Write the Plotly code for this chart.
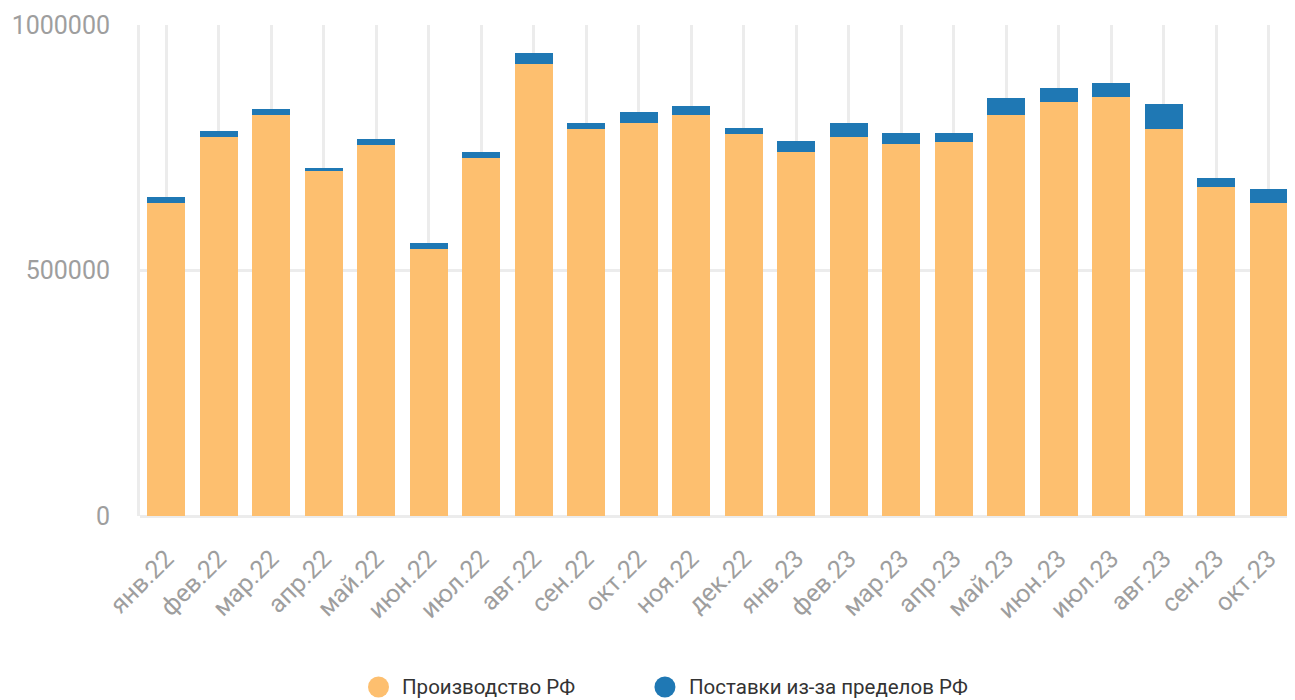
import plotly.graph_objects as go

months = ["янв.22", "фев.22", "мар.22", "апр.22", "май.22", "июн.22", "июл.22", "авг.22",
          "сен.22", "окт.22", "ноя.22", "дек.22", "янв.23", "фев.23", "мар.23", "апр.23",
          "май.23", "июн.23", "июл.23", "авг.23", "сен.23", "окт.23"]

production_rf = [637500, 771900, 816700, 702600, 755600, 543800, 729100, 920600,
                 788200, 800400, 816700, 778000, 741300, 771900, 757600, 761700,
                 816700, 843200, 853400, 788200, 670100, 637500]

imports_rf = [12200, 12200, 12200, 6200, 12200, 12200, 12200, 22400,
              12200, 22400, 18300, 12200, 22400, 28500, 22400, 18300,
              34600, 28500, 28500, 50900, 18300, 28500]

series_names = ["Производство РФ", "Поставки из-за пределов РФ"]

y_ticks = [0, 500000, 1000000]

ORANGE = "#FDBF6F"
BLUE = "#1F78B4"
GRID = "#ECECEC"
LABEL = "#9E9E9E"

fig = go.Figure()
fig.add_trace(go.Bar(x=months, y=production_rf, name=series_names[0],
                     marker=dict(color=ORANGE, line=dict(width=0)), showlegend=False))
fig.add_trace(go.Bar(x=months, y=imports_rf, name=series_names[1],
                     marker=dict(color=BLUE, line=dict(width=0)), showlegend=False))

# custom legend (circle markers larger than plotly's legend allows)
legend_items = [(series_names[0], ORANGE, 0.2065, 0.2262),
                (series_names[1], BLUE, 0.4545, 0.4747)]
legend_y = -0.3483
for name, color, mx, tx in legend_items:
    fig.add_shape(type="circle", xref="paper", yref="paper",
                  xsizemode="pixel", ysizemode="pixel",
                  xanchor=mx, yanchor=legend_y,
                  x0=-10.5, x1=10.5, y0=-10.5, y1=10.5,
                  fillcolor=color, line=dict(width=0))
    fig.add_annotation(x=tx, y=legend_y, xref="paper", yref="paper",
                       text=name, showarrow=False, xanchor="left", yanchor="middle",
                       font=dict(size=20.5, color="#333333"), borderpad=0)

# page body adds an 8px offset, so the figure is sized to compensate
fig.update_layout(
    width=1287, height=692,
    barmode="stack", bargap=0.28,
    plot_bgcolor="white", paper_bgcolor="white",
    font=dict(family="Roboto", color=LABEL),
    margin=dict(l=132, r=0, t=17, b=184, autoexpand=False),
    showlegend=False,
    xaxis=dict(showgrid=True, gridcolor=GRID, gridwidth=3, tickangle=-45,
               tickfont=dict(size=25, color=LABEL), showline=False, ticks="",
               ticklabelstandoff=22, automargin=False),
    yaxis=dict(range=[0, 1000000], tickvals=y_ticks, tickformat="d",
               showgrid=True, gridcolor=GRID, gridwidth=3,
               zeroline=True, zerolinecolor=GRID, zerolinewidth=3,
               showline=True, linecolor=GRID, linewidth=3,
               tickfont=dict(size=25, color=LABEL), ticklabelstandoff=22,
               automargin=False),
)

fig.write_html("out.html")
